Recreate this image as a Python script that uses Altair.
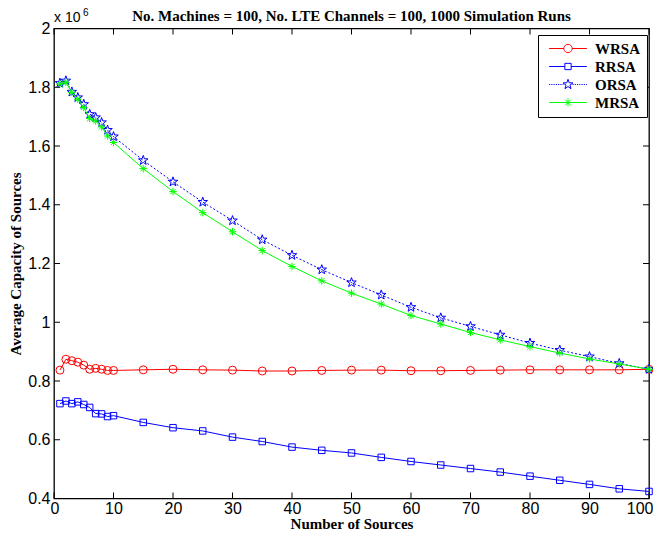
import math
import altair as alt
import pandas as pd

# ---------------- data ----------------
sources = [1, 2, 3, 4, 5, 6, 7, 8, 9, 10, 15, 20, 25, 30, 35, 40, 45, 50,
           55, 60, 65, 70, 75, 80, 85, 90, 95, 100]
wrsa = [0.837, 0.874, 0.869, 0.864, 0.854, 0.840, 0.843, 0.840, 0.836, 0.836,
        0.838, 0.840, 0.838, 0.837, 0.834, 0.834, 0.836, 0.837, 0.837, 0.835,
        0.835, 0.836, 0.837, 0.838, 0.838, 0.838, 0.838, 0.840]
rrsa = [0.723, 0.732, 0.723, 0.729, 0.720, 0.710, 0.689, 0.688, 0.679, 0.682,
        0.659, 0.641, 0.630, 0.609, 0.594, 0.575, 0.564, 0.555, 0.540, 0.526,
        0.514, 0.502, 0.490, 0.476, 0.462, 0.448, 0.433, 0.424]
orsa = [1.814, 1.822, 1.784, 1.765, 1.742, 1.708, 1.697, 1.680, 1.654, 1.632,
        1.551, 1.478, 1.409, 1.346, 1.281, 1.228, 1.179, 1.135, 1.093, 1.051,
        1.015, 0.986, 0.957, 0.929, 0.905, 0.883, 0.860, 0.840]
mrsa = [1.811, 1.817, 1.782, 1.759, 1.731, 1.693, 1.685, 1.665, 1.634, 1.612,
        1.523, 1.445, 1.373, 1.308, 1.244, 1.190, 1.141, 1.099, 1.062, 1.023,
        0.994, 0.965, 0.940, 0.917, 0.895, 0.875, 0.858, 0.840]

series_names = ["WRSA", "RRSA", "ORSA", "MRSA"]
series_colors = ["#ff0000", "#0000ff", "#0000ff", "#00ff00"]
x_ticks = [0, 10, 20, 30, 40, 50, 60, 70, 80, 90, 100]
y_ticks = [0.4, 0.6, 0.8, 1.0, 1.2, 1.4, 1.6, 1.8, 2.0]

title_text = "No. Machines = 100, No. LTE Channels = 100, 1000 Simulation Runs"
x_title = "Number of Sources"
y_title = "Average Capacity of Sources"

# ---------------- styling helpers ----------------
W, H = 595, 470
SERIF = "Liberation Serif"
SANS = "Liberation Sans"


def poly_circle(r, n=28):
    pts = [(r * math.cos(2 * math.pi * i / n), r * math.sin(2 * math.pi * i / n)) for i in range(n)]
    return "M" + "L".join(f"{a:.3f},{b:.3f}" for a, b in pts) + "Z"


def star(r_out, r_in):
    pts = []
    for i in range(10):
        ang = -math.pi / 2 + i * math.pi / 5
        r = r_out if i % 2 == 0 else r_in
        pts.append((r * math.cos(ang), r * math.sin(ang)))
    return "M" + "L".join(f"{a:.3f},{b:.3f}" for a, b in pts) + "Z"


def asterisk(r):
    d = r * 0.7071
    return (f"M{-r},0H{r}M0,{-r}V{r}"
            f"M{-d:.3f},{-d:.3f}L{d:.3f},{d:.3f}M{-d:.3f},{d:.3f}L{d:.3f},{-d:.3f}")


def dotted(x0, x1, on=0.25, off=0.25):
    parts = []
    x = x0
    while x < x1:
        parts.append(f"M{x:.3f},0H{min(x + on, x1):.3f}")
        x += on + off
    return "".join(parts)


L = 4.2
legend_paths = [
    f"M{-L},0H-0.92M0.92,0H{L}" + poly_circle(0.92),
    f"M{-L},0H-0.7M0.7,0H{L}M-0.7,-0.7H0.7V0.7H-0.7Z",
    dotted(-L, -1.0) + dotted(1.0, L) + star(1.15, 0.46),
    f"M{-L},0H{L}" + asterisk(0.9),
]
marker_shapes = ["circle", "square", star(1.0, 0.4), asterisk(1.0)]
marker_sizes = [64, 42, 100, 56]
line_dashes = [None, None, [2, 2], None]

df = pd.DataFrame({
    "sources": sources * 4,
    "capacity": wrsa + rrsa + orsa + mrsa,
    "series": [s for s in series_names for _ in sources],
})

xs = alt.Scale(domain=[0, 100], nice=False)
ys = alt.Scale(domain=[0.4, 2.0], nice=False, zero=False)

x_axis = alt.Axis(values=x_ticks, title=x_title, grid=False, domain=False, ticks=False,
                  tickSize=0, labelFont=SANS, labelFontSize=16, labelPadding=2,
                  labelColor="black", labelFlush=True, labelFlushOffset=4,
                  titleFont=SERIF, titleFontWeight="bold", titleFontSize=15,
                  titleColor="black", titlePadding=0)
y_axis = alt.Axis(values=y_ticks, title=y_title, grid=False, domain=False, ticks=False,
                  tickSize=0, format="~g", labelFont=SANS, labelFontSize=16,
                  labelPadding=4, labelColor="black", titleFont=SERIF,
                  titleFontWeight="bold", titleFontSize=15, titleColor="black",
                  titlePadding=4, labelFlush=False)


def X(field):
    return alt.X(field, scale=xs, axis=x_axis)


def Y(field):
    return alt.Y(field, scale=ys, axis=y_axis)


base = alt.Chart(df)
layers = []
for i, (name, col) in enumerate(zip(series_names, series_colors)):
    sub = base.transform_filter(alt.datum.series == name)
    line_kwargs = dict(color=col, strokeWidth=1)
    if line_dashes[i]:
        line_kwargs["strokeDash"] = line_dashes[i]
    layers.append(sub.mark_line(**line_kwargs).encode(x=X("sources:Q"), y=Y("capacity:Q")))
    layers.append(sub.mark_point(shape=marker_shapes[i], size=marker_sizes[i], filled=False,
                                 color=col, strokeWidth=1, opacity=1).encode(
        x=X("sources:Q"), y=Y("capacity:Q")))

# legend-only layer (no rows drawn; legend from explicit scale domains)
legend_layer = base.transform_filter("datum.sources < 0").mark_point(
    filled=False, size=81, strokeWidth=1).encode(
    x=X("sources:Q"),
    y=Y("capacity:Q"),
    color=alt.Color("series:N", scale=alt.Scale(domain=series_names, range=series_colors),
                    legend=alt.Legend(title=None, orient="none", legendX=484, legendY=6.5,
                                      strokeColor="black", fillColor="white", padding=6,
                                      labelFont=SERIF, labelFontWeight="bold", labelFontSize=15,
                                      labelColor="black", symbolSize=81, symbolOffset=16.5,
                                      labelOffset=19.5, rowPadding=2, symbolStrokeWidth=1,
                                      symbolOpacity=1, cornerRadius=0)),
    shape=alt.Shape("series:N", scale=alt.Scale(domain=series_names, range=legend_paths)),
)

# inward ticks on all four sides
xt = alt.Chart(pd.DataFrame({"t": x_ticks}))
yt = alt.Chart(pd.DataFrame({"t": y_ticks}))
tick_bottom = xt.mark_rule(color="black", strokeWidth=1).encode(
    x=X("t:Q"), y=alt.value(H), y2=alt.value(H - 6))
tick_top = xt.mark_rule(color="black", strokeWidth=1).encode(
    x=X("t:Q"), y=alt.value(0), y2=alt.value(6))
tick_left = yt.mark_rule(color="black", strokeWidth=1).encode(
    y=Y("t:Q"), x=alt.value(0), x2=alt.value(6))
tick_right = yt.mark_rule(color="black", strokeWidth=1).encode(
    y=Y("t:Q"), x=alt.value(W), x2=alt.value(W - 6))

# title and exponent note
title_layer = alt.Chart(pd.DataFrame({"t": [title_text]})).mark_text(
    font=SERIF, fontWeight="bold", fontSize=15, color="black", align="center",
    baseline="alphabetic").encode(text="t:N", x=alt.value(W / 2), y=alt.value(-8))
exp_base = alt.Chart(pd.DataFrame({"t": ["x 10"]})).mark_text(
    font=SANS, fontSize=14, color="black", align="left", baseline="alphabetic").encode(
    text="t:N", x=alt.value(0), y=alt.value(-7))
exp_sup = alt.Chart(pd.DataFrame({"t": ["6"]})).mark_text(
    font=SANS, fontSize=10, color="black", align="left", baseline="alphabetic").encode(
    text="t:N", x=alt.value(29), y=alt.value(-13))

chart = alt.layer(
    *layers, legend_layer, tick_bottom, tick_top, tick_left, tick_right,
    title_layer, exp_base, exp_sup,
).properties(
    width=W, height=H, autosize="none",
    padding={"left": 46, "top": 20.5, "right": 4, "bottom": 33.5},
    background="white",
).configure_view(stroke="black", strokeWidth=1.3)

chart.save("out.html", embed_options={"renderer": "svg", "actions": False})
